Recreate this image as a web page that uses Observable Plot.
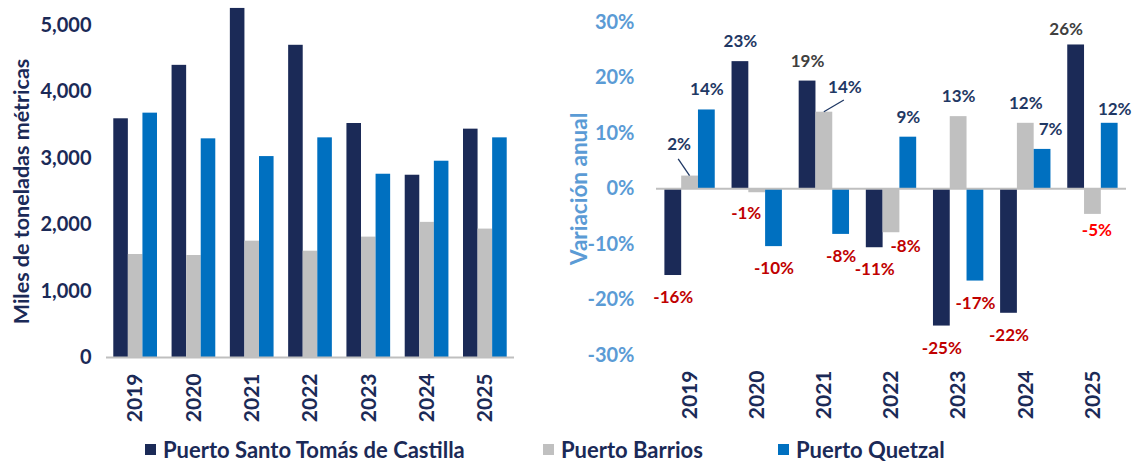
<!DOCTYPE html>
<html><head><meta charset="utf-8">
<script src="https://cdn.jsdelivr.net/npm/d3@7"></script>
<script src="https://cdn.jsdelivr.net/npm/@observablehq/plot@0.6"></script>
<style>
body{margin:0;background:#fff;font-family:Lato, "Open Sans", sans-serif;}
#wrap{position:relative;width:1135px;height:461px;overflow:hidden;background:#fff;}
#left{position:absolute;left:0;top:0;}
#right{position:absolute;left:560px;top:0;}
#legend{position:absolute;top:438px;left:0;width:1135px;height:22px;font-family:Lato;font-weight:bold;font-size:22px;color:#1B2A57;}
.item{position:absolute;top:0;height:22px;display:flex;align-items:center;white-space:nowrap;}
.sw{width:11px;height:11px;margin-right:7px;flex:none;}
</style></head><body>
<div id="wrap"><div id="left"></div><div id="right"></div><div id="legend"></div></div>
<script>
// ---- data ----
const years = ["2019","2020","2021","2022","2023","2024","2025"];
const series = ["Puerto Santo Tomás de Castilla","Puerto Barrios","Puerto Quetzal"];
const colors = ["#1B2A57","#C0C0C0","#0070C0"];
// Miles de toneladas métricas
const santoTomas = [3595,4400,5257,4702,3524,2745,3439];
const barrios    = [1551,1536,1752,1601,1813,2035,1934];
const quetzal    = [3680,3293,3026,3308,2760,2956,3308];
// Variación anual (%)
const varSantoTomas = [-15.6,22.9,19.4,-10.6,-24.7,-22.4,25.9];
const varBarrios    = [2.3,-0.7,13.8,-7.9,13.0,11.8,-4.6];
const varQuetzal    = [14.2,-10.4,-8.2,9.3,-16.6,7.1,11.8];
const leftTicks  = [0,1000,2000,3000,4000,5000];
const rightTicks = [-30,-20,-10,0,10,20,30];

// ---- label styling (pixel nudges / colours) ----
const NAVY = "#1B2A57", LBLUE = "#5B9BD5";
const labelNudge = {
  "2019|1": {dx:-11, dy:-32, leader:[-11.4,-16.7]},
  "2020|1": {dx:-11, dy:21},
  "2021|1": {dx:20.5, dy:-25, leader:[20,-11.7]},
  "2022|1": {dx:14, dy:14},
  "2024|2": {dx:8, dy:-20},
  "2025|0": {dx:-10, dy:-15.5, fill:"#404040"},
  "2025|1": {dx:4, dy:16, fill:"#FF0000"},
  "2025|2": {dx:5, dy:-14}
};
const labelFillOverride = {"2021|0":"#404040"};

// ---- tables ----
const volumes = [santoTomas, barrios, quetzal];
const variations = [varSantoTomas, varBarrios, varQuetzal];
const BW = 0.25; // bar width as a fraction of a year step
function build(arrs){
  const rows = [];
  arrs.forEach((arr, s) => arr.forEach((v, i) => rows.push({year: years[i], i, s, series: series[s], value: v})));
  return rows;
}
const volRows = build(volumes);
const varRows = build(variations);
const xc = d => d.i + (d.s - 1) * BW;
const x1 = d => xc(d) - BW/2;
const x2 = d => xc(d) + BW/2;
const yearIdx = years.map((y, i) => i);
const pct = v => (v < 0 ? -Math.round(-v) : Math.round(v)) + "%";

const fontStyle = {fontFamily: "Lato, 'Open Sans', sans-serif", fontWeight: "bold", fontSize: "20px", background: "transparent", overflow: "visible"};

// ---- left chart ----
const H = 425;
const left = Plot.plot({
  width: 540, height: H,
  marginLeft: 106, marginRight: 26, marginTop: 25, marginBottom: H - 357,
  style: {...fontStyle, color: NAVY},
  x: {domain: [-0.5, 6.5], axis: null},
  y: {domain: [0, 5000], axis: null},
  color: {domain: series, range: colors},
  marks: [
    Plot.rectY(volRows, {x1, x2, y1: 0, y2: "value", fill: "series"}),
    Plot.ruleY([0], {stroke: "#BFBFBF", strokeWidth: 2}),
    Plot.axisY({ticks: leftTicks, tickSize: 0, tickPadding: 15, tickFormat: d3.format(","), label: null, color: NAVY}),
    Plot.axisY({ticks: [], label: "Miles de toneladas métricas", labelAnchor: "center", labelArrow: "none", labelOffset: 93, fontSize: 21.5, color: NAVY}),
    Plot.axisX({ticks: yearIdx, tickFormat: i => years[i], tickSize: 0, tickPadding: 16, tickRotate: -90, label: null, fontSize: 21, color: NAVY})
  ]
});
document.getElementById("left").append(left);

// ---- right chart ----
const right = Plot.plot({
  width: 575, height: H,
  marginLeft: 96, marginRight: 9, marginTop: 21.7, marginBottom: H - 355,
  style: {...fontStyle, color: NAVY},
  x: {domain: [-0.5, 6.5], axis: null},
  y: {domain: [-30, 30], axis: null},
  color: {domain: series, range: colors},
  marks: [
    Plot.rectY(varRows, {x1, x2, y1: 0, y2: "value", fill: "series"}),
    Plot.ruleY([0], {stroke: "#BFBFBF", strokeWidth: 2}),
    Plot.axisY({ticks: rightTicks, tickSize: 0, tickPadding: 22, tickFormat: d => d + "%", label: null, color: LBLUE}),
    Plot.axisY({ticks: [], label: "Variación anual", labelAnchor: "center", labelArrow: "none", labelOffset: 85, fontSize: 22.5, color: LBLUE}),
    Plot.axisX({ticks: yearIdx, tickFormat: i => years[i], tickSize: 0, tickPadding: 15, tickRotate: -90, label: null, fontSize: 21, color: NAVY}),
    ...varRows.map(d => {
      const key = d.year + "|" + d.s;
      const n = labelNudge[key] || {};
      const neg = d.value < 0;
      const fill = n.fill || labelFillOverride[key] || (neg ? "#C00000" : "#1F3864");
      return Plot.text([d], {x: xc, y: "value", text: v => pct(v.value),
        dx: n.dx || 0, dy: n.dy !== undefined ? n.dy : (neg ? 22 : -20),
        fill, fontSize: 17, fontWeight: "bold"});
    }),
    (index, scales) => {
      const g = d3.create("svg:g").attr("stroke", "#1F3864").attr("stroke-width", 1.3);
      for (const d of varRows) {
        const n = labelNudge[d.year + "|" + d.s];
        if (!n || !n.leader) continue;
        const px = scales.x(xc(d)), py = scales.y(d.value);
        g.append("line").attr("x1", px).attr("y1", py).attr("x2", px + n.leader[0]).attr("y2", py + n.leader[1]);
      }
      return g.node();
    }
  ]
});
document.getElementById("right").append(right);

// ---- legend ----
const legendLeft = [145, 543, 778];
const legend = document.getElementById("legend");
series.forEach((s, k) => {
  const it = document.createElement("div");
  it.className = "item";
  it.style.left = legendLeft[k] + "px";
  it.innerHTML = `<span class="sw" style="background:${colors[k]}"></span><span>${s}</span>`;
  legend.append(it);
});
</script>
</body></html>
